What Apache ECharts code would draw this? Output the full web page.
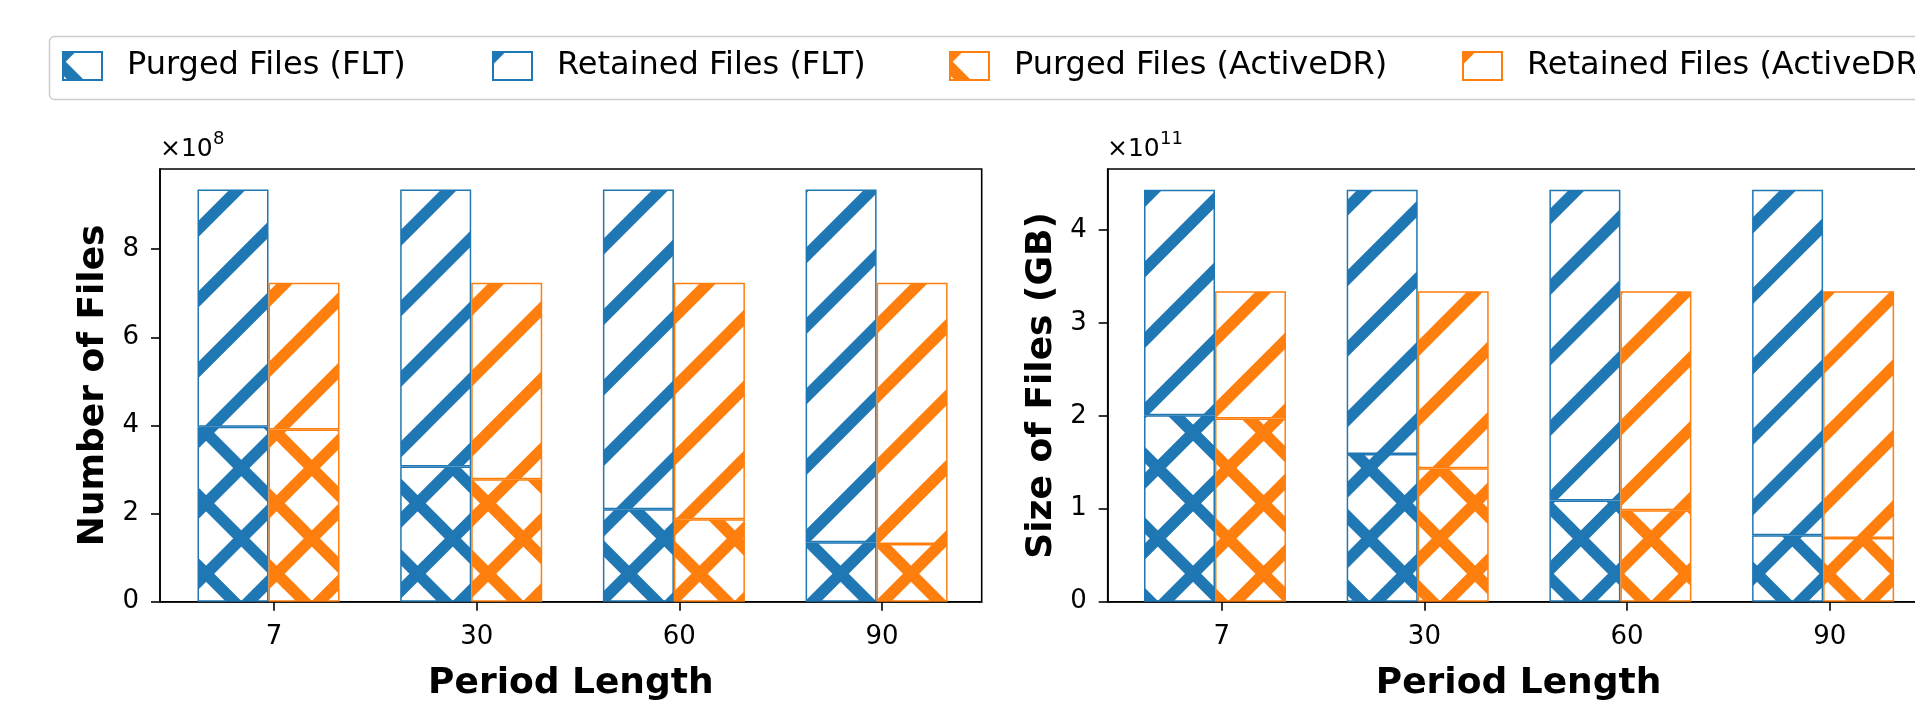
<!DOCTYPE html>
<html><head><meta charset="utf-8">
<script src="https://cdn.jsdelivr.net/npm/echarts@6/dist/echarts.min.js"></script>
<style>html,body{margin:0;padding:0;background:#fff;overflow:hidden}#c{width:1915px;height:703px}</style>
</head><body><div id="c"></div><script>
// ---- data ----
const categories = ['7', '30', '60', '90'];
const seriesNames = ['Purged Files (FLT)', 'Retained Files (FLT)', 'Purged Files (ActiveDR)', 'Retained Files (ActiveDR)'];
// Number of files
const countPurgedFLT = [3.97e8, 3.07e8, 2.10e8, 1.35e8];
const countRetainedFLT = [5.385e8, 6.285e8, 7.255e8, 8.005e8];
const countPurgedADR = [3.91e8, 2.78e8, 1.87e8, 1.31e8];
const countRetainedADR = [3.33e8, 4.46e8, 5.37e8, 5.93e8];
// Size of files (GB)
const sizePurgedFLT = [2.005e11, 1.59e11, 1.09e11, 0.715e11];
const sizeRetainedFLT = [2.428e11, 2.843e11, 3.343e11, 3.718e11];
const sizePurgedADR = [1.97e11, 1.435e11, 0.985e11, 0.685e11];
const sizeRetainedADR = [1.37e11, 1.905e11, 2.355e11, 2.655e11];
// tick labels
const countTicks = [0, 2e8, 4e8, 6e8, 8e8];
const countScale = 1e8;
const sizeTicks = [0, 1e11, 2e11, 3e11, 4e11];
const sizeScale = 1e11;

// ---- styling ----
const BLUE = '#1f77b4', ORANGE = '#ff7f0e';
const FONT = 'DejaVu Sans';

function hatch(color, cross) {
  const T = 141, P = 70.5, c = 4.3, d = 55.3;
  const cv = document.createElement('canvas');
  cv.width = T; cv.height = T;
  const g = cv.getContext('2d');
  g.strokeStyle = color; g.lineWidth = 11.5; g.lineCap = 'butt';
  for (let k = -2; k <= 6; k++) {
    const s = c + k * P;
    g.beginPath(); g.moveTo(s + 30, -30); g.lineTo(-30, s + 30); g.stroke();
  }
  if (cross) {
    for (let k = -4; k <= 4; k++) {
      const s = d + k * P;
      g.beginPath(); g.moveTo(-30, -30 - s); g.lineTo(T + 30, T + 30 - s); g.stroke();
    }
  }
  return { image: cv, repeat: 'repeat' };
}
const patterns = [hatch(BLUE, true), hatch(BLUE, false), hatch(ORANGE, true), hatch(ORANGE, false)];
const edgeColors = [BLUE, BLUE, ORANGE, ORANGE];
const stacks = ['flt', 'flt', 'adr', 'adr'];

const chart = echarts.init(document.getElementById('c'), null, { renderer: 'canvas' });

const TOP = 169, H = 432.7, FW = 821.7, BAND = 202.7;
function frameGrid(left) {
  return { left: left, top: TOP, width: FW, height: H, show: true, borderColor: '#000', borderWidth: 1.6, outerBoundsMode: 'none', containLabel: false };
}
function barGrid(left) {
  return { left: left, top: TOP, width: BAND * 4, height: H, show: false, outerBoundsMode: 'none', containLabel: false };
}
function frameX(gi) {
  return {
    type: 'value', gridIndex: gi, min: -0.5624, max: 3.4916,
    axisLine: { show: true, onZero: false, lineStyle: { color: '#000', width: 1.6 } },
    axisTick: { show: true, customValues: [0, 1, 2, 3], length: 9, lineStyle: { color: '#000', width: 1.6 } },
    axisLabel: { customValues: [0, 1, 2, 3], formatter: v => categories[Math.round(v)], fontSize: 26, fontFamily: FONT, color: '#000', margin: 23 },
    splitLine: { show: false },
    name: 'Period Length', nameLocation: 'middle', nameGap: 64,
    nameTextStyle: { fontSize: 36, fontWeight: 'bold', fontFamily: FONT, color: '#000' }
  };
}
function frameY(gi, max, ticks, scale, name) {
  return {
    type: 'value', gridIndex: gi, min: 0, max: max,
    axisLine: { show: true, onZero: false, lineStyle: { color: '#000', width: 1.6 } },
    axisTick: { show: true, customValues: ticks, length: 9, lineStyle: { color: '#000', width: 1.6 } },
    axisLabel: { customValues: ticks, formatter: v => String(Math.round(v / scale)), fontSize: 26, fontFamily: FONT, color: '#000', margin: 21 },
    splitLine: { show: false },
    name: name, nameLocation: 'middle', nameGap: 48,
    nameTextStyle: { fontSize: 36, fontWeight: 'bold', fontFamily: FONT, color: '#000' }
  };
}
function barX(gi) {
  return { type: 'category', gridIndex: gi, data: categories, show: false, boundaryGap: true };
}
function barY(gi, max) {
  return { type: 'value', gridIndex: gi, min: 0, max: max, show: false, splitLine: { show: false } };
}
function barSeries(gi, idx, values) {
  return {
    type: 'bar', name: seriesNames[idx], xAxisIndex: gi, yAxisIndex: gi, stack: stacks[idx] + gi,
    barWidth: 71, barGap: '0%',
    data: values,
    itemStyle: { color: patterns[idx], borderColor: edgeColors[idx], borderWidth: 1.5 },
    emphasis: { disabled: true }
  };
}

const COUNT_MAX = 9.82e8, SIZE_MAX = 4.655e11;
const legendLefts = [62, 492, 949, 1462];
const option = {
  animation: false,
  backgroundColor: '#fff',
  grid: [frameGrid(160), barGrid(167.15), frameGrid(1107.7), barGrid(1113.65)],
  xAxis: [frameX(0), barX(1), frameX(2), barX(3)],
  yAxis: [
    frameY(0, COUNT_MAX, countTicks, countScale, 'Number of Files'), barY(1, COUNT_MAX),
    frameY(2, SIZE_MAX, sizeTicks, sizeScale, 'Size of Files (GB)'), barY(3, SIZE_MAX)
  ],
  legend: seriesNames.map((n, i) => ({
    data: [n], left: legendLefts[i], top: 50, padding: 0, itemGap: 0,
    itemWidth: 39, itemHeight: 28, icon: 'rect',
    textStyle: { fontSize: 32, fontFamily: FONT, color: '#000', padding: [6, 0, 0, 20] }
  })),
  graphic: [
    { type: 'rect', z: -1, shape: { x: 49.5, y: 36.5, width: 1950, height: 63, r: 5 }, style: { fill: '#fff', stroke: '#cccccc', lineWidth: 1.5 } },
    { type: 'text', x: 160, y: 137, style: { text: '×10', font: '25px "DejaVu Sans"', fill: '#000', textVerticalAlign: 'top' } },
    { type: 'text', x: 213, y: 130, style: { text: '8', font: '18px "DejaVu Sans"', fill: '#000', textVerticalAlign: 'top' } },
    { type: 'text', x: 1107, y: 137, style: { text: '×10', font: '25px "DejaVu Sans"', fill: '#000', textVerticalAlign: 'top' } },
    { type: 'text', x: 1160, y: 130, style: { text: '11', font: '18px "DejaVu Sans"', fill: '#000', textVerticalAlign: 'top' } }
  ],
  series: [
    barSeries(1, 0, countPurgedFLT), barSeries(1, 1, countRetainedFLT),
    barSeries(1, 2, countPurgedADR), barSeries(1, 3, countRetainedADR),
    barSeries(3, 0, sizePurgedFLT), barSeries(3, 1, sizeRetainedFLT),
    barSeries(3, 2, sizePurgedADR), barSeries(3, 3, sizeRetainedADR)
  ]
};
chart.setOption(option);
</script></body></html>
